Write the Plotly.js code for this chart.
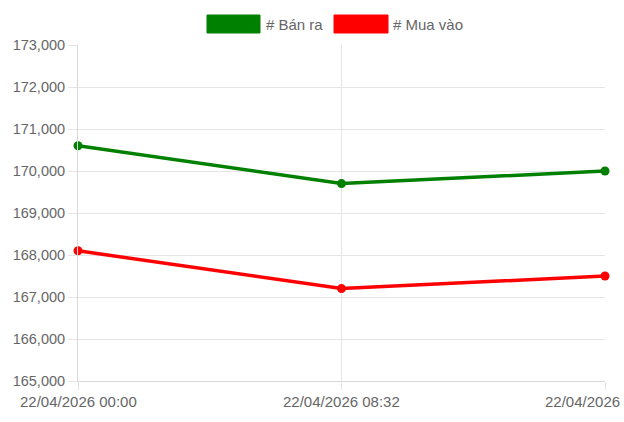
<!DOCTYPE html>
<html>
<head>
<meta charset="utf-8">
<script src="https://cdn.plot.ly/plotly-3.0.1.min.js"></script>
<style>html,body{margin:0;padding:0;background:#fff;}#chart{width:624px;height:422px;}</style>
</head>
<body>
<div id="chart"></div>
<script>
const categories = ["22/04/2026 00:00", "22/04/2026 08:32", "22/04/2026"];
const banRa = [170600, 169700, 170000];
const muaVao = [168100, 167200, 167500];
const seriesNames = ["# Bán ra", "# Mua vào"];
const seriesColors = ["#008000", "#ff0000"];
const yTicks = [165000, 166000, 167000, 168000, 169000, 170000, 171000, 172000, 173000];

const L = 78, R = 605, T = 45, B = 381;
const px = x => (x - L) / (R - L);
const py = y => (B - y) / (B - T);

const traces = [banRa, muaVao].map((vals, i) => ({
  x: categories, y: vals, type: 'scatter', mode: 'lines+markers',
  name: seriesNames[i], showlegend: false,
  line: {color: seriesColors[i], width: 3.5},
  marker: {color: seriesColors[i], size: 9},
  cliponaxis: false, hoverinfo: 'skip'
}));

const font = {family: 'Liberation Sans, Arial, sans-serif', size: 15, color: '#666'};
const yfont = {family: 'Liberation Sans, Arial, sans-serif', size: 14.5, color: '#666'};

const annotations = categories.map((c, i) => ({
  x: c, xref: 'x', y: 0, yref: 'paper', yanchor: 'top',
  xanchor: i === categories.length - 1 ? 'right' : 'center',
  xshift: i === categories.length - 1 ? 17 : 0,
  yshift: -10, text: c, showarrow: false, font: font
}));
// legend labels
annotations.push({x: px(264), xref: 'paper', y: py(24), yref: 'paper', xanchor: 'left', yanchor: 'middle', text: seriesNames[0], showarrow: false, font: font});
annotations.push({x: px(391), xref: 'paper', y: py(24), yref: 'paper', xanchor: 'left', yanchor: 'middle', text: seriesNames[1], showarrow: false, font: font});

const shapes = [
  {type: 'rect', xref: 'paper', yref: 'paper', x0: px(207), x1: px(260), y0: py(15), y1: py(33), fillcolor: seriesColors[0], line: {width: 1, color: seriesColors[0]}},
  {type: 'rect', xref: 'paper', yref: 'paper', x0: px(334), x1: px(388), y0: py(15), y1: py(33), fillcolor: seriesColors[1], line: {width: 1, color: seriesColors[1]}}
];

const layout = {
  width: 624, height: 422,
  margin: {l: 78, r: 19, t: 45, b: 41},
  paper_bgcolor: '#fff', plot_bgcolor: '#fff',
  font: font,
  showlegend: false,
  xaxis: {
    type: 'category', range: [0, 2], showticklabels: false,
    showgrid: true, gridcolor: '#e5e5e5', gridwidth: 1,
    ticks: 'outside', ticklen: 8, tickcolor: '#e5e5e5',
    showline: true, linecolor: '#d9d9d9', linewidth: 1, zeroline: false
  },
  yaxis: {
    range: [165000, 173000], tickvals: yTicks, tickformat: ',',
    showgrid: true, gridcolor: '#e5e5e5', gridwidth: 1,
    ticks: 'outside', ticklen: 9, tickcolor: '#e5e5e5',
    showline: true, linecolor: '#d9d9d9', linewidth: 1, zeroline: false,
    tickfont: yfont
  },
  annotations: annotations,
  shapes: shapes
};

Plotly.newPlot('chart', traces, layout, {staticPlot: true, displayModeBar: false});
</script>
</body>
</html>
